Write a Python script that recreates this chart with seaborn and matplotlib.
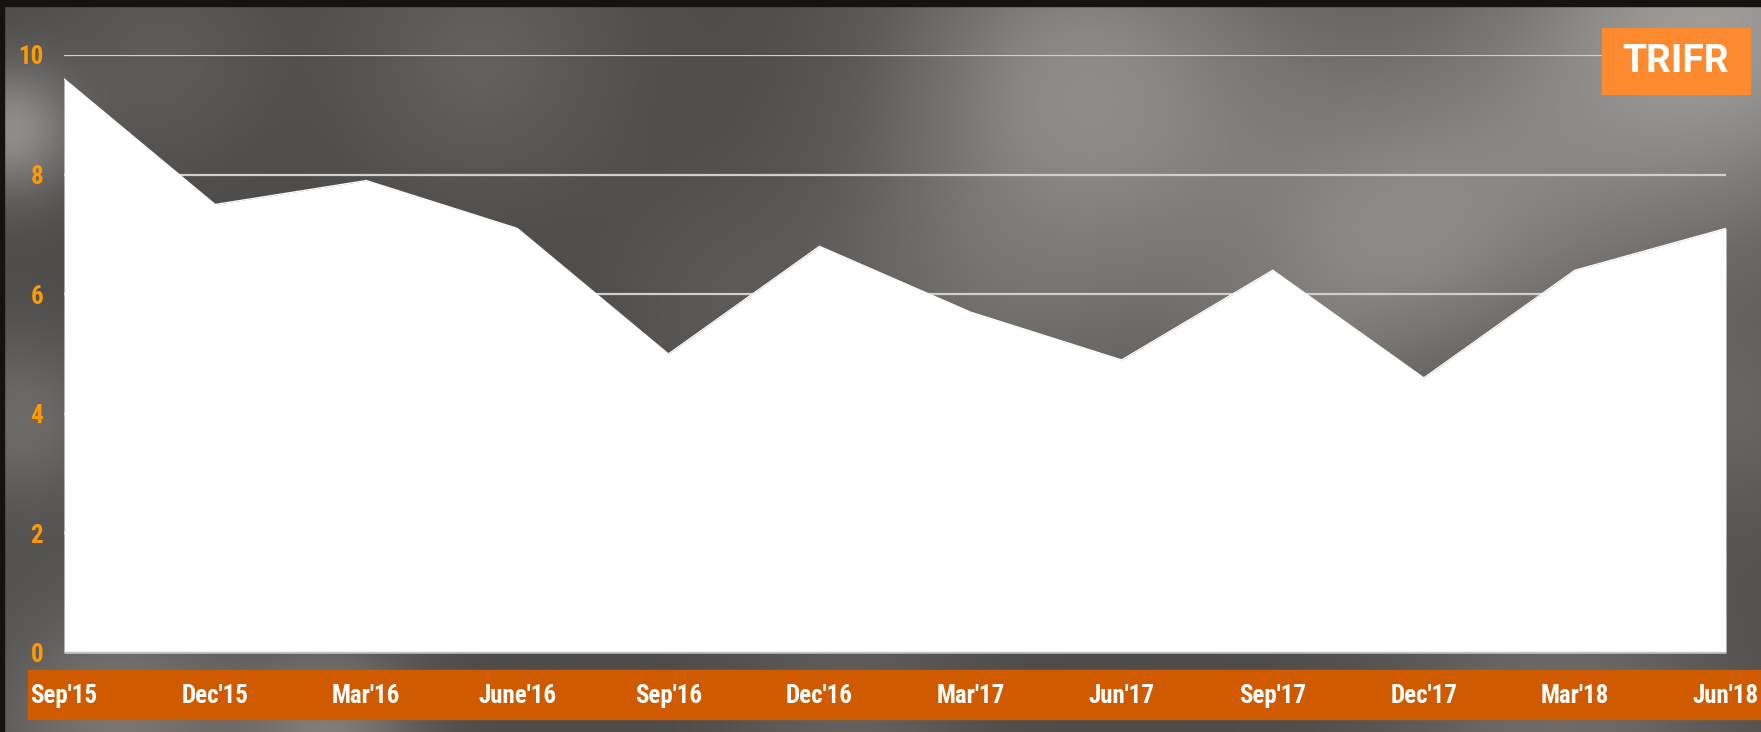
"""TRIFR quarterly trend, area chart on a dark photo-like backdrop."""
import matplotlib
matplotlib.use("Agg")
import matplotlib.pyplot as plt
import numpy as np
import seaborn as sns
from matplotlib.patches import Rectangle

quarters = ["Sep'15", "Dec'15", "Mar'16", "June'16", "Sep'16", "Dec'16",
            "Mar'17", "Jun'17", "Sep'17", "Dec'17", "Mar'18", "Jun'18"]
trifr = [9.6, 7.5, 7.9, 7.1, 5.0, 6.8, 5.7, 4.9, 6.4, 4.6, 6.4, 7.1]
y_ticks = [0, 2, 4, 6, 8, 10]

sns.set_theme(style="white")
plt.rcParams["font.family"] = ["Roboto Condensed", "DejaVu Sans"]

W, H = 1761, 732
fig = plt.figure(figsize=(W / 100, H / 100), dpi=100)

# blurred grey backdrop (purely decorative)
yy, xx = np.mgrid[0:H, 0:W]
bg = np.full((H, W), 0.30)
for cx, cy, r, amp in [(480, 60, 90, 0.08), (160, 60, 70, 0.06), (10, 130, 45, 0.25),
                       (1720, 20, 150, 0.30), (1180, 140, 170, 0.16), (1050, 60, 110, 0.12),
                       (1380, 260, 90, 0.10), (1280, 380, 60, 0.08), (960, 300, 120, 0.08),
                       (1500, 200, 120, 0.12), (20, 420, 60, 0.12), (1740, 420, 80, 0.08),
                       (120, 720, 90, 0.16), (330, 725, 60, 0.18), (850, 725, 80, 0.08),
                       (1560, 725, 120, 0.12), (720, 310, 80, 0.04)]:
    bg += amp * np.exp(-((xx - cx) ** 2 + (yy - cy) ** 2) / (2 * r ** 2))
rgb = np.dstack([bg * 1.02, bg * 0.995, bg * 0.975]).clip(0, 1)
bgax = fig.add_axes([0, 0, 1, 1])
bgax.imshow(rgb, aspect="auto", extent=(0, W, H, 0))
bgax.add_patch(Rectangle((0, 0), W, 6, color="#151210"))
bgax.add_patch(Rectangle((0, 0), 4, H, color="#151210"))
bgax.add_patch(Rectangle((28, 670), W - 28, 49, color="#CF5A00"))
bgax.set_xlim(0, W)
bgax.set_ylim(H, 0)
bgax.axis("off")

ax = fig.add_axes([64 / W, 79 / H, (1726 - 64) / W, (653 - 55) / H])
ax.set_facecolor("none")
x = np.arange(len(quarters))
ax.fill_between(x, trifr, 0, color="white", lw=0, zorder=2)
sns.lineplot(x=x, y=trifr, color="white", lw=1, ax=ax, zorder=2)
ax.axhline(0, color="#c4c4c4", lw=2.5, zorder=3)
ax.set_xlim(0, len(quarters) - 1)
ax.set_ylim(0, 10)
ax.set_yticks(y_ticks)
ax.yaxis.grid(True, color="#d0d0d0", lw=1.6)
ax.set_axisbelow(True)
for s in ax.spines.values():
    s.set_visible(False)
ax.set_xticks(x)
ax.set_xticklabels(quarters)
ax.tick_params(axis="x", length=0, pad=22, labelsize=18, labelcolor="white")
ax.tick_params(axis="y", length=0, pad=15, labelsize=18, labelcolor="#FF9A00")
for lab in ax.get_xticklabels() + ax.get_yticklabels():
    lab.set_fontweight("bold")

fig.patches.append(Rectangle((1602 / W, 1 - 94 / H), 148 / W, 66 / H,
                             transform=fig.transFigure, color="#FD8A2F", zorder=5))
fig.text(1676 / W, 1 - 61 / H, "TRIFR", color="white", fontsize=28, fontweight="bold",
         family=["Roboto", "DejaVu Sans"], ha="center", va="center", zorder=6)

fig.savefig("out.png", dpi=100)
